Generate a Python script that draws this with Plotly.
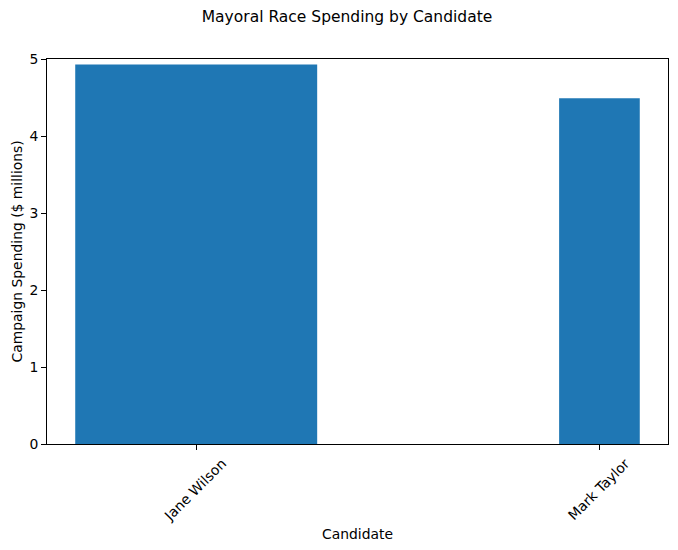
import plotly.graph_objects as go

candidates = ["Jane Wilson", "Mark Taylor"]
spending = [4.93, 4.49]
bar_widths = [0.6, 0.2]
positions = [0, 1]

fig = go.Figure()
fig.add_trace(go.Bar(x=positions, y=spending, width=bar_widths,
                     marker=dict(color="#1f77b4", line=dict(width=0))))

axis_style = dict(showline=True, linecolor="black", linewidth=1, mirror=True,
                  ticks="outside", ticklen=5, tickcolor="black", showgrid=False,
                  zeroline=False, automargin=False,
                  tickfont=dict(size=13.9, color="black"))

# page body adds ~8px offset, so margins are trimmed to match
fig.update_layout(
    width=678, height=550,
    font=dict(family="DejaVu Sans", color="black"),
    title=dict(text="Mayoral Race Spending by Candidate", x=0.5, xanchor="center",
               y=0.984, yanchor="middle", font=dict(size=15.5)),
    plot_bgcolor="white", paper_bgcolor="white",
    margin=dict(l=39, r=18, t=51, b=114),
    showlegend=False,
)
fig.update_xaxes(**axis_style, range=[-0.37, 1.17], tickvals=positions, ticktext=candidates,
                 tickangle=-45, ticklabelshift=26,
                 title=dict(text="Candidate", font=dict(size=13.9), standoff=6))
fig.update_yaxes(**axis_style, range=[0, 5], dtick=1)
fig.add_annotation(text="Campaign Spending ($ millions)", xref="paper", yref="paper",
                   x=0, y=0.5, xshift=-31, xanchor="center", yanchor="middle",
                   textangle=-90, showarrow=False, font=dict(size=13.9))

fig.write_html("out.html")
